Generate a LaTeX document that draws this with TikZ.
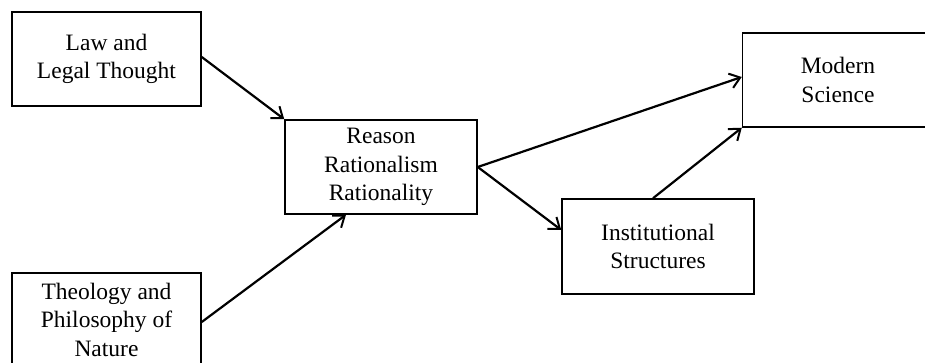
\documentclass[tikz,border=0pt]{standalone}
\usepackage{fontspec}
\setmainfont{Liberation Serif}
\usetikzlibrary{arrows.meta,calc}
\begin{document}
\begin{tikzpicture}[x=1pt,y=-1pt,
  box/.style={draw,line width=1.5pt,rectangle,inner sep=0pt,align=center,
    font=\fontsize{23.5}{28.5}\selectfont},
  conn/.style={line width=2.2pt,-{Straight Barb[length=10pt,width=15pt,line width=2pt]}}]
\useasboundingbox (0,0) rectangle (925,363);
\node[box,minimum width=189pt,minimum height=94pt] (law) at (106.5,59) {Law and\\Legal Thought};
\node[box,minimum width=192pt,minimum height=94pt] (reason) at (381,167) {Reason\\Rationalism\\Rationality};
\node[box,minimum width=189pt,minimum height=93pt] (theo) at (106.5,319.5) {Theology and\\Philosophy of\\Nature};
\node[box,minimum width=191pt,minimum height=94pt] (modern) at (838,80) {Modern\\Science};
\node[box,minimum width=192pt,minimum height=95pt] (inst) at (658,246.5) {Institutional\\Structures};
\draw[conn] ($(law.east)+(0,-2)$) -- (reason.north west);
\draw[conn] ($(theo.east)+(0,2.5)$) -- ($(reason.south)+(-35,0)$);
\draw[conn] (reason.east) -- ($(modern.west)+(0,-3)$);
\draw[conn] (reason.east) -- ($(inst.west)+(0,-16.5)$);
\draw[conn] ($(inst.north)+(-5,0)$) -- (modern.south west);
\end{tikzpicture}
\end{document}
